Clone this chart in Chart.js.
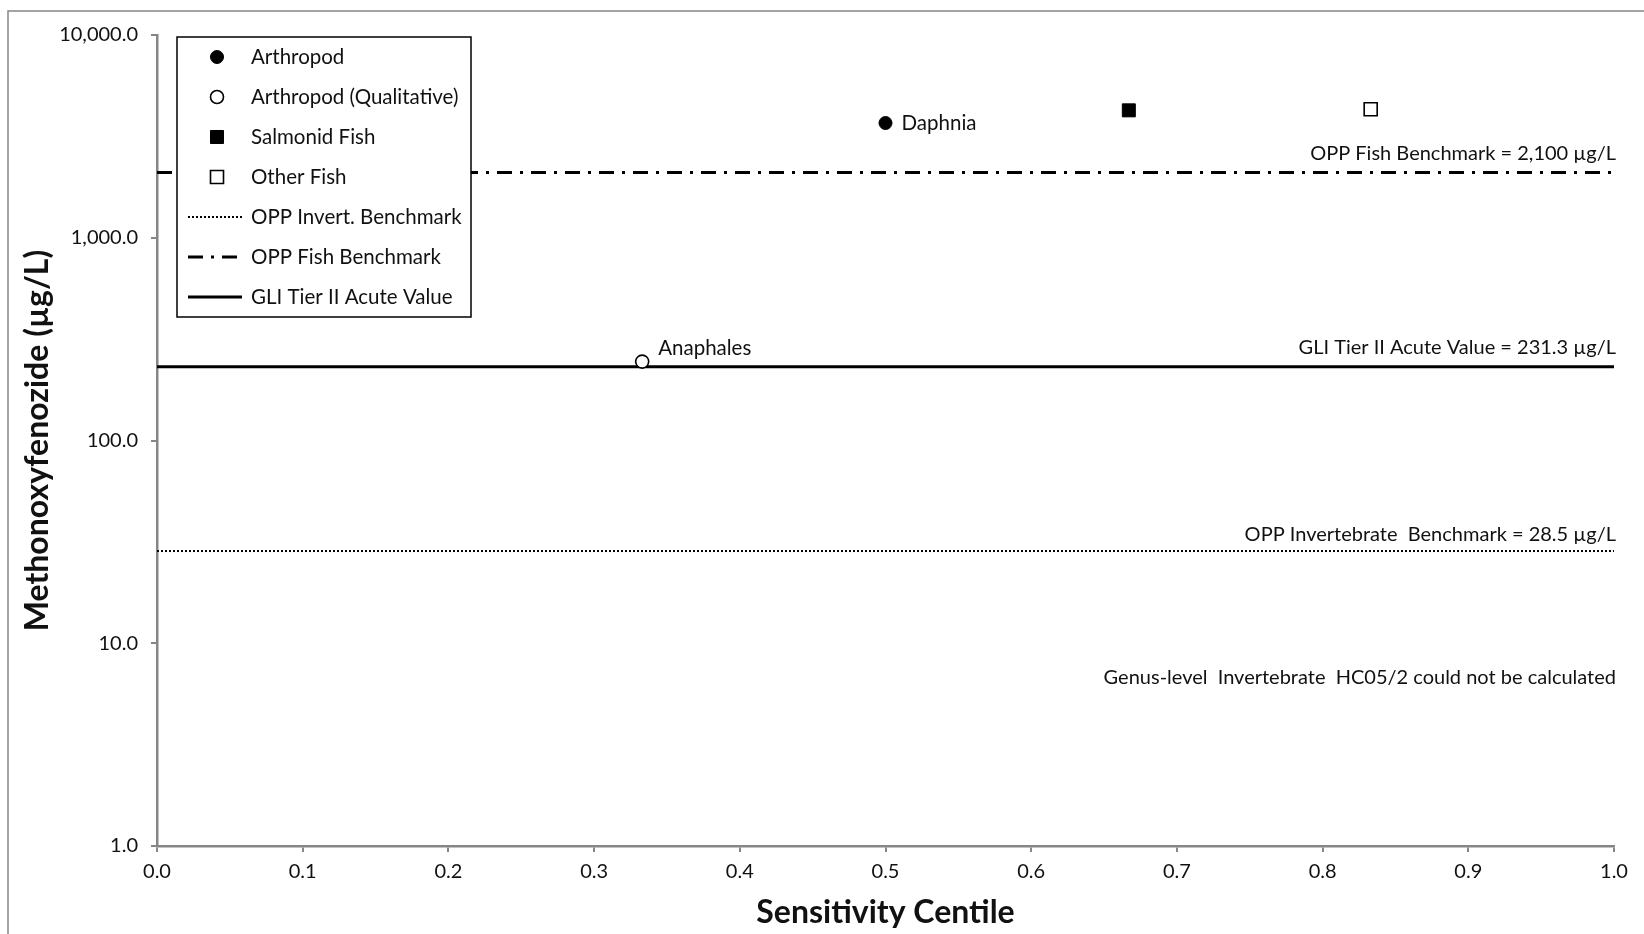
<!DOCTYPE html>
<html>
<head>
<meta charset="utf-8">
<script src="https://cdn.jsdelivr.net/npm/chart.js@4"></script>
<style>
html,body{margin:0;padding:0;background:#fff;}
#wrap{width:1644px;height:934px;position:relative;}
</style>
</head>
<body>
<div id="wrap"><canvas id="c"></canvas></div>
<script>
// ---- data ----
const seriesNames = ['Arthropod', 'Arthropod (Qualitative)', 'Salmonid Fish', 'Other Fish'];
const genusLabels = ['Daphnia', 'Anaphales', '', ''];
const centiles = [0.5, 0.333, 0.667, 0.833];
const values = [3680, 245, 4250, 4300];
const benchmarkNames = ['OPP Invert. Benchmark', 'OPP Fish Benchmark', 'GLI Tier II Acute Value'];
const benchmarkValues = [28.5, 2100, 231.3];
const benchmarkText = ['OPP Invertebrate  Benchmark = 28.5 µg/L', 'OPP Fish Benchmark = 2,100 µg/L', 'GLI Tier II Acute Value = 231.3 µg/L'];
const noteText = 'Genus-level  Invertebrate  HC05/2 could not be calculated';
const noteValue = 6.8;
const xTickValues = [0, 0.1, 0.2, 0.3, 0.4, 0.5, 0.6, 0.7, 0.8, 0.9, 1.0];
const xTickLabels = ['0.0', '0.1', '0.2', '0.3', '0.4', '0.5', '0.6', '0.7', '0.8', '0.9', '1.0'];
const yTickValues = [1, 10, 100, 1000, 10000];
const yTickLabels = ['1.0', '10.0', '100.0', '1,000.0', '10,000.0'];
const xTitle = 'Sensitivity Centile';
const yTitle = 'Methonoxyfenozide (µg/L)';

const FONT = 'Lato, "Open Sans", sans-serif';
const AXIS = '#868686';
const TXT = '#111';

const markerStyles = [
  {pointStyle: 'circle', radius: 6.5, bg: '#000', border: '#000', bw: 1},
  {pointStyle: 'circle', radius: 6.5, bg: '#fff', border: '#000', bw: 1.6},
  {pointStyle: 'rect', radius: 9.2, bg: '#000', border: '#000', bw: 1},
  {pointStyle: 'rect', radius: 9.2, bg: '#fff', border: '#000', bw: 1.6}
];
const lineStyles = [
  {dash: [2, 2], width: 2},
  {dash: [15, 8, 3, 8], width: 3},
  {dash: [], width: 3}
];

const datasets = [];
seriesNames.forEach((n, i) => {
  const m = markerStyles[i];
  datasets.push({
    label: n, type: 'scatter',
    data: [{x: centiles[i], y: values[i]}],
    pointStyle: m.pointStyle, pointRadius: m.radius,
    backgroundColor: m.bg, borderColor: m.border, borderWidth: m.bw,
    order: 0
  });
});
benchmarkNames.forEach((n, i) => {
  const s = lineStyles[i];
  datasets.push({
    label: n, type: 'line',
    data: [{x: xTickValues[0], y: benchmarkValues[i]}, {x: xTickValues[xTickValues.length - 1], y: benchmarkValues[i]}],
    borderColor: '#000', borderWidth: s.width, borderDash: s.dash,
    pointRadius: 0, fill: false, tension: 0, order: 1
  });
});

const decorPlugin = {
  id: 'decor',
  beforeDraw(chart) {
    const ctx = chart.ctx;
    ctx.save();
    ctx.fillStyle = '#fff';
    ctx.fillRect(0, 0, chart.width, chart.height);
    ctx.strokeStyle = AXIS;
    ctx.lineWidth = 1.5;
    ctx.strokeRect(8, 11, chart.width + 20, chart.height + 20);
    ctx.restore();
  },
  afterDatasetsDraw(chart) {
    const ctx = chart.ctx;
    const xs = chart.scales.x, ys = chart.scales.y;
    ctx.save();
    ctx.fillStyle = TXT;
    ctx.font = '20.5px ' + FONT;
    ctx.textBaseline = 'middle';
    // genus labels
    genusLabels.forEach((t, i) => {
      if (!t) return;
      const px = xs.getPixelForValue(centiles[i]);
      const py = ys.getPixelForValue(values[i]);
      ctx.textAlign = 'left';
      const dy = i === 1 ? -13 : 0;
      ctx.fillText(t, px + 16, py + dy);
    });
    // benchmark annotations
    ctx.font = '20px ' + FONT;
    const right = xs.getPixelForValue(1.0) + 2;
    benchmarkText.forEach((t, i) => {
      const py = ys.getPixelForValue(benchmarkValues[i]);
      ctx.textAlign = 'right';
      ctx.fillText(t, right, py - (i === 0 ? 16 : 19));
    });
    ctx.fillText(noteText, right, ys.getPixelForValue(noteValue));

    // legend box
    const L = 177, T = 37, W = 294, H = 280;
    ctx.fillStyle = '#fff';
    ctx.fillRect(L, T, W, H);
    ctx.strokeStyle = '#000';
    ctx.lineWidth = 1.5;
    ctx.strokeRect(L, T, W, H);
    ctx.font = '20.5px ' + FONT;
    const rows = seriesNames.length + benchmarkNames.length;
    for (let r = 0; r < rows; r++) {
      const y = 57 + r * 40;
      if (r < seriesNames.length) {
        const m = markerStyles[r];
        ctx.save();
        ctx.fillStyle = m.bg; ctx.strokeStyle = m.border; ctx.lineWidth = m.bw;
        Chart.helpers.drawPoint(ctx, {pointStyle: m.pointStyle, radius: m.radius, borderWidth: m.bw}, 217, y);
        ctx.restore();
      } else {
        const s = lineStyles[r - seriesNames.length];
        ctx.save();
        ctx.strokeStyle = '#000'; ctx.lineWidth = s.width; ctx.setLineDash(s.dash);
        ctx.beginPath(); ctx.moveTo(188, y); ctx.lineTo(242, y); ctx.stroke();
        ctx.restore();
      }
      const label = r < seriesNames.length ? seriesNames[r] : benchmarkNames[r - seriesNames.length];
      ctx.fillStyle = TXT;
      ctx.textAlign = 'left';
      ctx.fillText(label, 251, y);
    }
    ctx.restore();
  }
};

new Chart(document.getElementById('c'), {
  type: 'scatter',
  data: {datasets},
  options: {
    responsive: true, maintainAspectRatio: false, animation: false,
    layout: {padding: {left: 0, right: 30, top: 35, bottom: 0}},
    plugins: {legend: {display: false}, tooltip: {enabled: false}},
    scales: {
      x: {
        type: 'linear', min: 0, max: 1,
        afterBuildTicks(s) { s.ticks = xTickValues.map(v => ({value: v})); },
        afterFit(s) { s.height = 88; },
        ticks: {
          callback(v, i) { return xTickLabels[i]; },
          font: {family: FONT, size: 20}, color: TXT, padding: 8, maxRotation: 0, autoSkip: false
        },
        grid: {display: true, drawOnChartArea: false, drawTicks: true, tickLength: 6, color: AXIS, lineWidth: 2},
        border: {display: true, color: AXIS, width: 2.5},
        title: {display: true, text: xTitle, font: {family: FONT, size: 32, weight: 'bold'}, color: TXT, padding: {top: 0, bottom: 2}}
      },
      y: {
        type: 'logarithmic', min: 1, max: 10000,
        afterBuildTicks(s) { s.ticks = yTickValues.map(v => ({value: v})); },
        afterFit(s) { s.width = 157; },
        ticks: {
          callback(v, i) { return yTickLabels[i]; },
          font: {family: FONT, size: 20}, color: TXT, padding: 13, autoSkip: false
        },
        grid: {display: true, drawOnChartArea: false, drawTicks: true, tickLength: 6, color: AXIS, lineWidth: 2},
        border: {display: true, color: AXIS, width: 2.5},
        title: {display: true, text: yTitle, font: {family: FONT, size: 32, weight: 'bold'}, color: TXT, padding: {top: 18, bottom: 0}}
      }
    }
  },
  plugins: [decorPlugin]
});
</script>
</body>
</html>
